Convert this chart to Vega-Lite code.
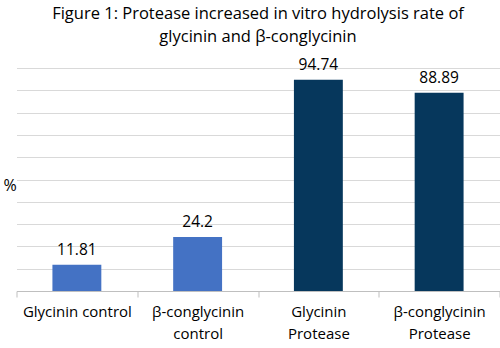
{
  "$schema": "https://vega.github.io/schema/vega-lite/v6.json",
  "autosize": {"type": "none"},
  "width": 483,
  "height": 223,
  "padding": {"left": 16.5, "top": 68, "right": 0.5, "bottom": 57},
  "background": "white",
  "title": {
    "text": ["Figure 1: Protease increased in vitro hydrolysis rate of", "glycinin and β-conglycinin"],
    "font": "Open Sans",
    "fontSize": 16.5,
    "fontWeight": "normal",
    "color": "#000000",
    "anchor": "middle",
    "lineHeight": 23,
    "offset": 12
  },
  "data": {
    "values": [
      {"category": "Glycinin control", "value": 11.81, "group": "control"},
      {"category": "β-conglycinin control", "value": 24.2, "group": "control"},
      {"category": "Glycinin Protease", "value": 94.74, "group": "protease"},
      {"category": "β-conglycinin Protease", "value": 88.89, "group": "protease"}
    ]
  },
  "encoding": {
    "x": {
      "field": "category",
      "type": "nominal",
      "sort": null,
      "scale": {"paddingInner": 0, "paddingOuter": 0},
      "axis": {
        "title": null,
        "labelAngle": 0,
        "tickBand": "extent",
        "tickSize": 6,
        "tickColor": "#BFBFBF",
        "domainColor": "#BFBFBF",
        "labelFont": "Open Sans",
        "labelFontSize": 15,
        "labelColor": "#000000",
        "labelPadding": 7,
        "labelLineHeight": 22,
        "labelExpr": "isValid(datum.value) ? (datum.value == 'Glycinin control' ? datum.value : split(datum.value, ' ')) : ''"
      }
    },
    "y": {
      "field": "value",
      "type": "quantitative",
      "scale": {"domain": [0, 100]},
      "axis": {
        "values": [0, 10, 20, 30, 40, 50, 60, 70, 80, 90, 100],
        "labels": false,
        "ticks": false,
        "domain": false,
        "grid": true,
        "gridColor": "#D9D9D9",
        "title": "%",
        "titleAngle": 0,
        "titleFont": "Open Sans",
        "titleFontSize": 16,
        "titleFontWeight": "normal",
        "titleColor": "#000000",
        "titleX": -7,
        "titleY": 117,
        "titleAlign": "center",
        "titleBaseline": "middle"
      }
    }
  },
  "layer": [
    {
      "mark": {"type": "bar", "width": {"band": 0.405}},
      "encoding": {
        "color": {
          "field": "group",
          "type": "nominal",
          "scale": {"domain": ["control", "protease"], "range": ["#4472C4", "#06375C"]},
          "legend": null
        }
      }
    },
    {
      "mark": {"type": "text", "baseline": "bottom", "dy": -7, "font": "Open Sans", "fontSize": 15.5, "color": "#000000"},
      "encoding": {"text": {"field": "value", "type": "quantitative"}}
    }
  ],
  "config": {"view": {"stroke": null}}
}
